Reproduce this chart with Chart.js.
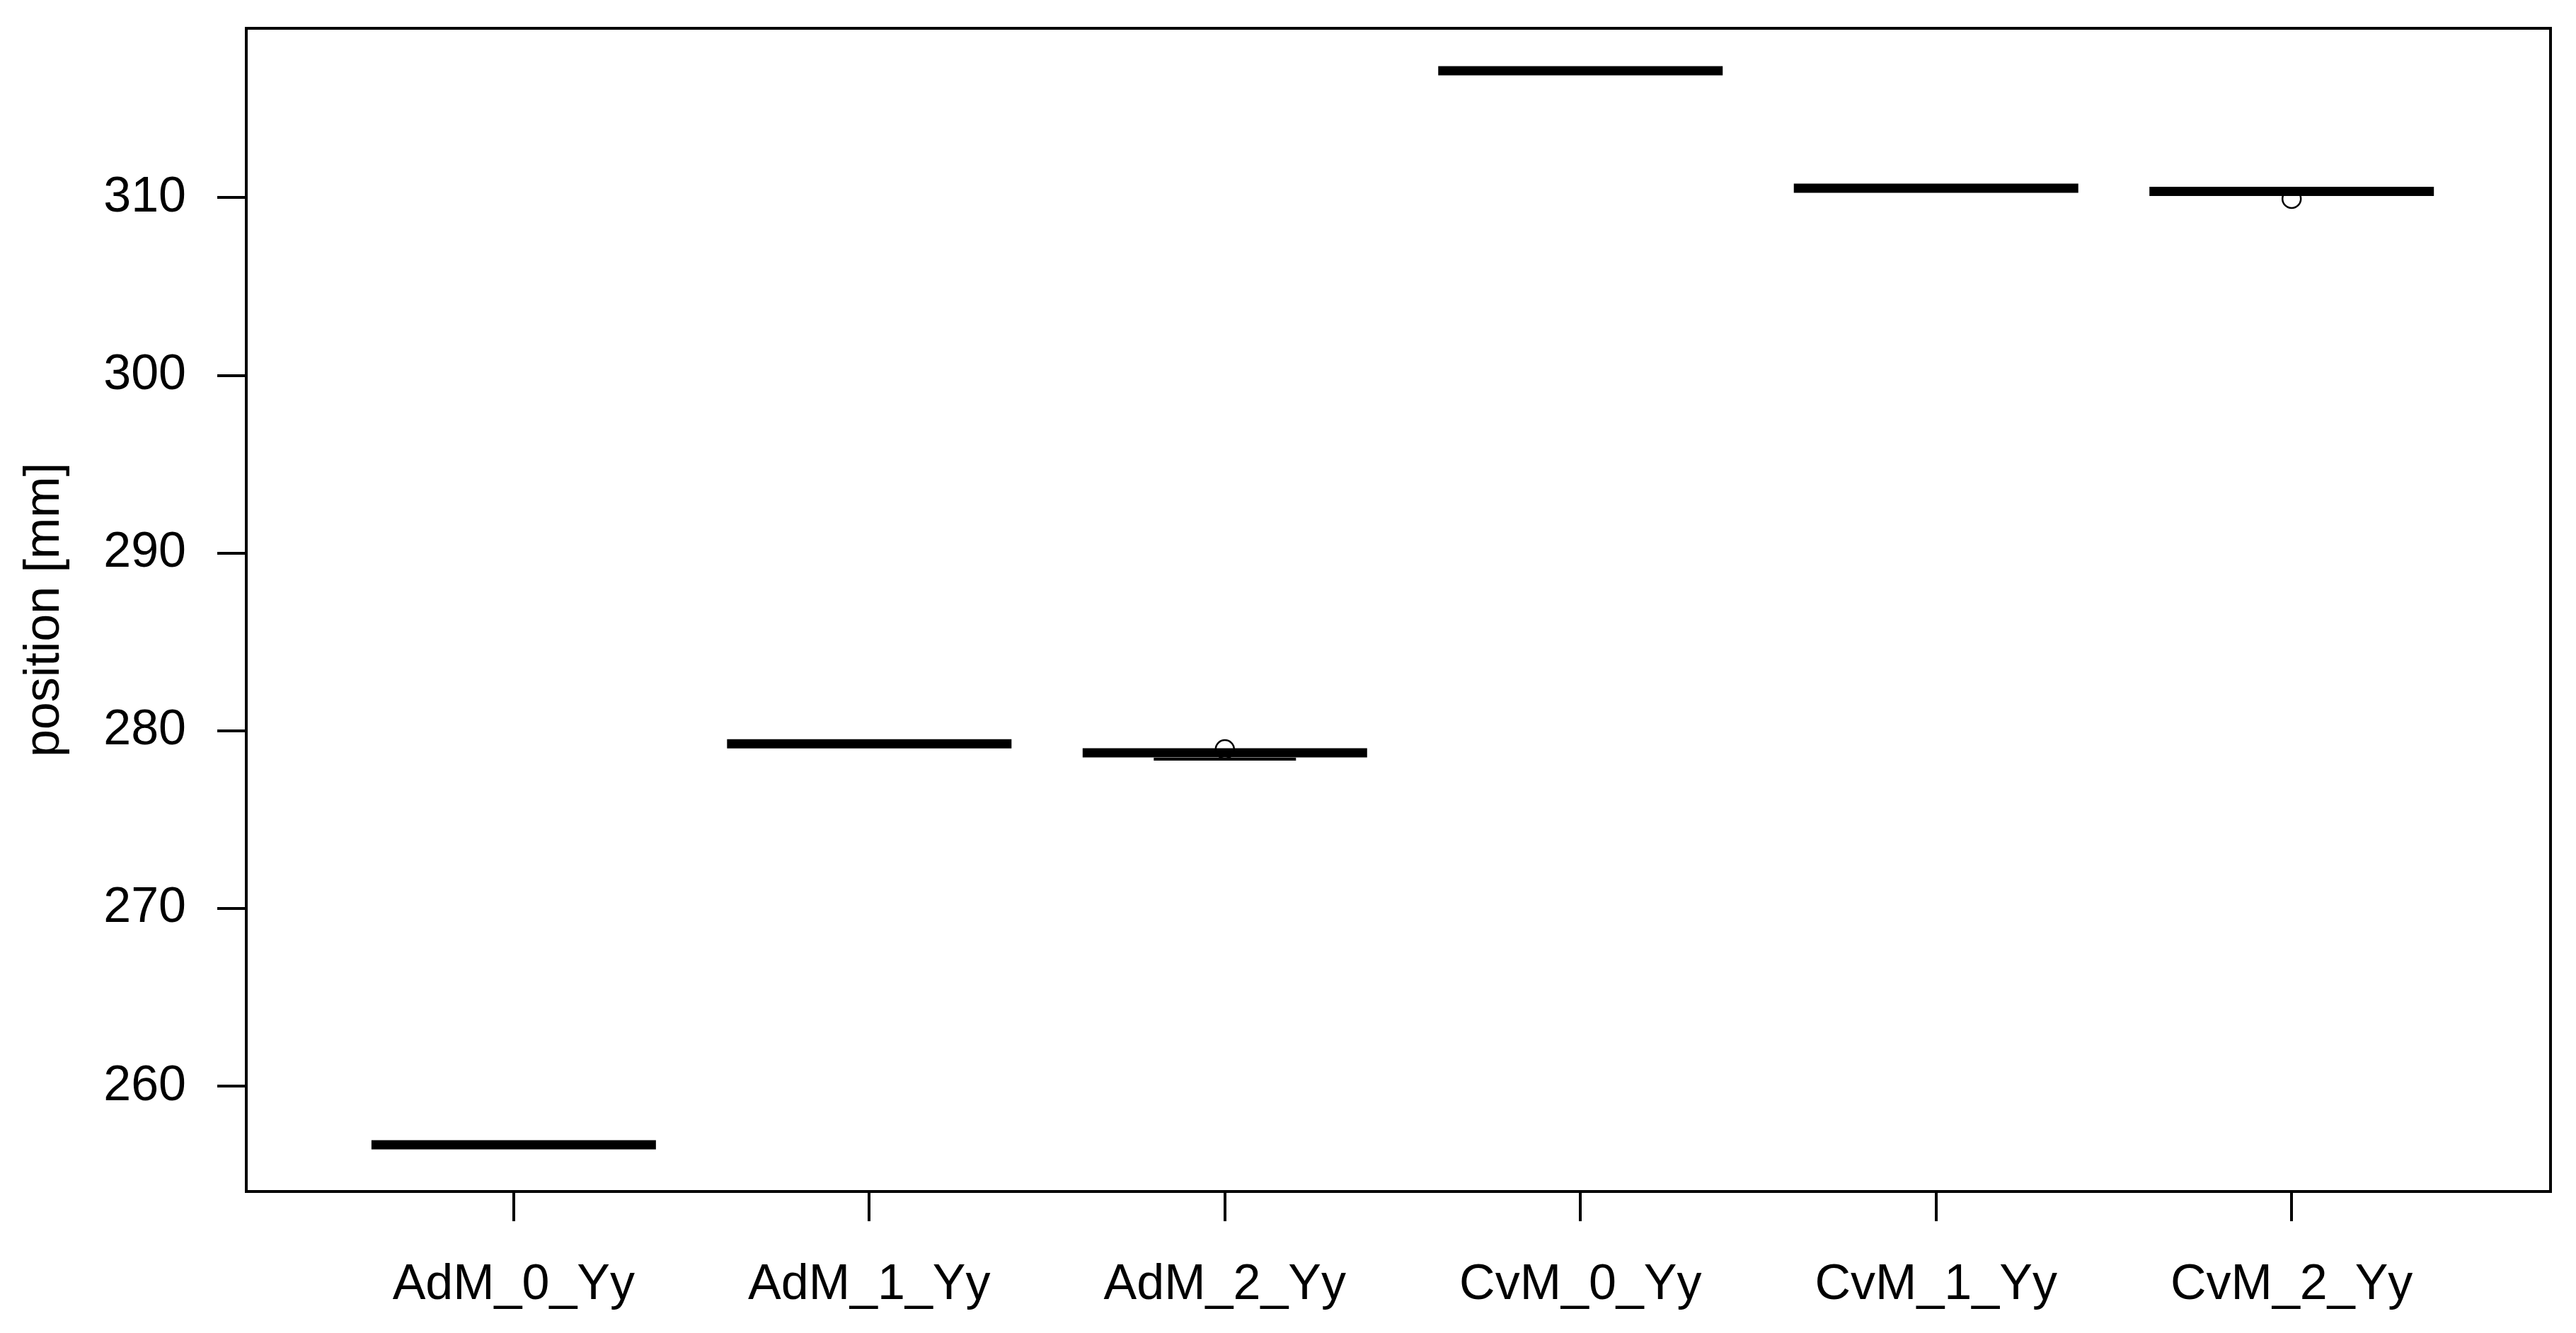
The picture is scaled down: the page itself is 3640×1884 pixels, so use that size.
<!DOCTYPE html>
<html>
<head>
<meta charset="utf-8">
<script src="https://cdn.jsdelivr.net/npm/chart.js@4/dist/chart.umd.min.js"></script>
<style>
  html, body { margin: 0; padding: 0; background: #fff; }
  #wrap { width: 3640px; height: 1884px; }
</style>
</head>
<body>
<div id="wrap"><canvas id="c" width="3640" height="1884"></canvas></div>
<script>
// boxplot numbers (boxes are practically flat)
const categories = ['AdM_0_Yy', 'AdM_1_Yy', 'AdM_2_Yy', 'CvM_0_Yy', 'CvM_1_Yy', 'CvM_2_Yy'];
const medians    = [256.71, 279.27, 278.76, 317.14, 310.53, 310.35];
const lowWhisk   = [256.71, 279.27, 278.40, 317.14, 310.53, 310.35];
const highWhisk  = [256.71, 279.27, 278.76, 317.14, 310.53, 310.35];
const outlierCat = [3, 6];
const outlierVal = [278.96, 309.94];
const yTicks     = [260, 270, 280, 290, 300, 310];

const FONT = "'Liberation Sans', Arial, sans-serif";

// horizontal segments centered on each category, broken with nulls
function segments(vals, half)
{
  let pts = [];
  vals.forEach((v, i) => {
    pts.push({x: i + 1 - half, y: v});
    pts.push({x: i + 1 + half, y: v});
    pts.push({x: i + 1.5, y: null});
  });
  return pts;
}

// frame around plot region like R's box()
const frame = {
  id: 'frame',
  afterDraw(chart) {
    let a = chart.chartArea, ctx = chart.ctx;
    ctx.save();
    ctx.strokeStyle = '#000';
    ctx.lineWidth = 4;
    ctx.strokeRect(a.left, a.top, a.right - a.left, a.bottom - a.top);
    ctx.restore();
  }
};

new Chart(document.getElementById('c'), {
  type: 'line',
  data: {
    datasets: [
      {
        type: 'scatter',
        data: outlierCat.map((c, i) => ({x: c, y: outlierVal[i]})),
        pointStyle: 'circle',
        pointRadius: 13,
        pointBorderWidth: 2.5,
        borderColor: '#000',
        backgroundColor: 'rgba(0,0,0,0)',
        showLine: false
      },
      {
        data: segments(medians, 0.4),
        borderColor: '#000',
        borderWidth: 13,
        borderCapStyle: 'butt',
        pointRadius: 0,
        spanGaps: false
      },
      {
        data: segments(lowWhisk, 0.2),
        borderColor: '#000',
        borderWidth: 4,
        borderCapStyle: 'butt',
        pointRadius: 0,
        spanGaps: false
      },
      {
        data: segments(highWhisk, 0.2),
        borderColor: '#000',
        borderWidth: 4,
        borderCapStyle: 'butt',
        pointRadius: 0,
        spanGaps: false
      }
    ]
  },
  options: {
    responsive: false,
    animation: false,
    devicePixelRatio: 1,
    layout: { padding: { top: 40, right: 36, bottom: 0, left: 0 } },
    plugins: { legend: { display: false }, tooltip: { enabled: false } },
    scales: {
      x: {
        type: 'linear',
        min: 0.248,
        max: 6.728,
        afterBuildTicks: s => { s.ticks = categories.map((c, i) => ({value: i + 1})); },
        afterFit: s => { s.height = 200; s.paddingLeft = 0; s.paddingRight = 0; },
        ticks: {
          autoSkip: false,
          maxRotation: 0,
          padding: 49,
          color: '#000',
          font: { family: FONT, size: 70 },
          callback: v => categories[v - 1]
        },
        grid: { drawOnChartArea: false, drawTicks: true, tickLength: 42, color: '#000', lineWidth: 4 },
        border: { display: false }
      },
      y: {
        min: 254.08,
        max: 319.53,
        afterBuildTicks: s => { s.ticks = yTicks.map(v => ({value: v})); },
        afterFit: s => { s.width = 348; s.paddingTop = 0; s.paddingBottom = 0; },
        ticks: {
          padding: 44,
          color: '#000',
          font: { family: FONT, size: 70 }
        },
        grid: { drawOnChartArea: false, drawTicks: true, tickLength: 41, color: '#000', lineWidth: 4 },
        border: { display: false },
        title: {
          display: true,
          text: 'position [mm]',
          color: '#000',
          font: { family: FONT, size: 70 },
          padding: { top: 22, bottom: 0 }
        }
      }
    }
  },
  plugins: [frame]
});
</script>
</body>
</html>
